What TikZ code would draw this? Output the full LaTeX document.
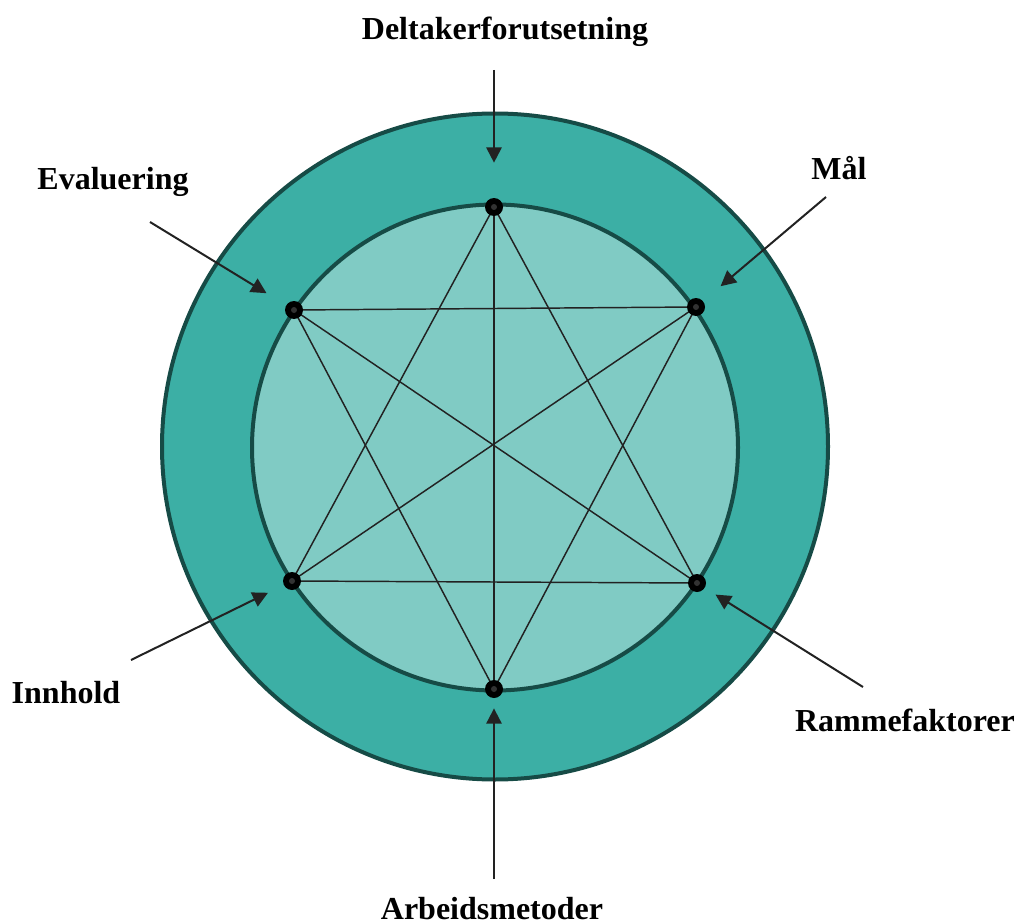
\documentclass[tikz,border=0pt]{standalone}
\usepackage{fontspec}
\setmainfont{Liberation Serif}
\usetikzlibrary{arrows.meta}
\definecolor{ringteal}{RGB}{60,175,165}
\definecolor{innerteal}{RGB}{128,203,196}
\definecolor{rimdark}{RGB}{22,75,70}
\definecolor{inkgray}{RGB}{34,34,34}
\definecolor{dotcore}{RGB}{50,50,50}

\begin{document}
\begin{tikzpicture}[x=0.75pt,y=0.75pt,yscale=-1,
  lbl/.style={font=\fontsize{24}{28}\selectfont\bfseries, inner sep=0pt, anchor=base},
  dot/.style={circle, fill=black, minimum size=13.5pt, inner sep=0pt},
  pointer/.style={draw=inkgray, line width=1.5pt, -{Triangle[length=11.5pt,width=11.5pt]}},
  chord/.style={draw=inkgray, line width=1.1pt}]
\useasboundingbox (0,0) rectangle (1018,924);

%Rings
\draw [fill=ringteal, draw=rimdark, line width=3pt] (495,446.5) circle (333);
\draw [fill=innerteal, draw=rimdark, line width=3pt] (495,447.5) circle (243);

%Points on the inner ring
\coordinate (T) at (494,207);
\coordinate (UR) at (696,307);
\coordinate (LR) at (697,583);
\coordinate (B) at (494,689);
\coordinate (LL) at (292,581);
\coordinate (UL) at (294,310);

%Star chords
\draw [chord] (T) -- (LL) -- (LR) -- cycle;
\draw [chord] (UL) -- (UR) -- (B) -- cycle;
\draw [chord] (T) -- (B);
\draw [chord] (UL) -- (LR);
\draw [chord] (UR) -- (LL);

%Dots
\foreach \p in {T,UR,LR,B,LL,UL} {
  \node [dot] (d\p) at (\p) {};
  \fill [dotcore] (\p) circle (3);
}

% Text Nodes
\node [lbl] (tDel) at (505,40) {Deltakerforutsetning};
\node [lbl] (tMal) at (839,180) {Mål};
\node [lbl] (tEva) at (113,189) {Evaluering};
\node [lbl] (tInn) at (66,703) {Innhold};
\node [lbl] (tRam) at (905,731) {Rammefaktorer};
\node [lbl] (tArb) at (492,919) {Arbeidsmetoder};

%Arrows
\coordinate (aDel) at (494,70);
\coordinate (aMal) at (826,197);
\coordinate (aEva) at (150,222);
\coordinate (aInn) at (131,660);
\coordinate (aRam) at (863,687);
\coordinate (aArb) at (494,879);
\draw [pointer, shorten >=26.3pt] (aDel) -- (dT);
\draw [pointer, shorten >=17.2pt] (aMal) -- (dUR);
\draw [pointer, shorten >=17.2pt] (aEva) -- (dUL);
\draw [pointer, shorten >=13.1pt] (aInn) -- (dLL);
\draw [pointer, shorten >=9.4pt] (aRam) -- (dLR);
\draw [pointer, shorten >=7.6pt] (aArb) -- (dB);

\end{tikzpicture}
\end{document}
